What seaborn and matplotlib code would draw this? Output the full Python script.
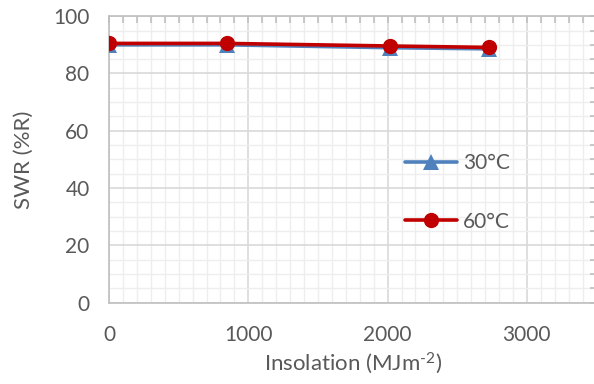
import matplotlib
matplotlib.use("Agg")
import matplotlib.pyplot as plt
import seaborn as sns
import pandas as pd
from matplotlib.ticker import MultipleLocator
from matplotlib.lines import Line2D

insolation = [0, 850, 2020, 2730]
swr_30 = [90.0, 90.0, 89.0, 88.6]
swr_60 = [90.5, 90.5, 89.6, 89.1]
series_labels = ["30°C", "60°C"]

df = pd.DataFrame({
    "x": insolation * 2,
    "y": swr_30 + swr_60,
    "s": [series_labels[0]] * 4 + [series_labels[1]] * 4,
})

sns.set_theme(style="white")
plt.rcParams["font.family"] = ["Lato", "DejaVu Sans"]
plt.rcParams["mathtext.fontset"] = "custom"
plt.rcParams["mathtext.rm"] = "Lato"
plt.rcParams["mathtext.default"] = "regular"
txt = "#595959"

fig = plt.figure(figsize=(5.94, 3.84), dpi=100)
x0, x1 = 109, 596.5
ax = fig.add_axes([x0/594, 1-302.7/384, (x1-x0)/594, (302.7-16.2)/384])

sns.lineplot(data=df, x="x", y="y", hue="s", style="s",
             palette={"30°C": "#4F81BD", "60°C": "#C00000"},
             markers={"30°C": "^", "60°C": "o"}, dashes=False,
             markersize=11, linewidth=2.6, markeredgewidth=0, ax=ax, legend=False,
             zorder=3)

ax.set_xlim(0, 3500)
ax.set_ylim(0, 100)
ax.xaxis.set_major_locator(MultipleLocator(1000))
ax.xaxis.set_minor_locator(MultipleLocator(100))
ax.yaxis.set_major_locator(MultipleLocator(20))
ax.yaxis.set_minor_locator(MultipleLocator(5))
ax.grid(which="major", color="#d9d9d9", linewidth=1.2)
ax.grid(which="minor", color="#eeeeee", linewidth=1.0)
ax.set_axisbelow(True)
for sp in ax.spines.values():
    sp.set_color("#bfbfbf")
    sp.set_linewidth(1.2)
ax.tick_params(axis="both", which="both", direction="in", colors="#bfbfbf",
               labelcolor=txt, labelsize=15, length=5, width=1.2,
               top=True, right=True)
ax.tick_params(axis="x", which="major", pad=16)
ax.tick_params(axis="y", which="major", pad=14)
ax.set_xlabel("Insolation (MJm$^{\u2010 2}$)", fontsize=16, color=txt, labelpad=4)
ax.set_ylabel("SWR (%R)", fontsize=16, color=txt, labelpad=14)

handles = [
    Line2D([], [], color="#4F81BD", marker="^", markersize=11, linewidth=2.6, markeredgewidth=0),
    Line2D([], [], color="#C00000", marker="o", markersize=11, linewidth=2.6, markeredgewidth=0),
]
leg = ax.legend(handles, series_labels, loc="center left", bbox_to_anchor=(0.59, 0.385),
                frameon=False, fontsize=15, labelcolor=txt, handlelength=2.5,
                labelspacing=1.85, handletextpad=0.3, borderaxespad=0)

fig.savefig("out.png", dpi=100)
